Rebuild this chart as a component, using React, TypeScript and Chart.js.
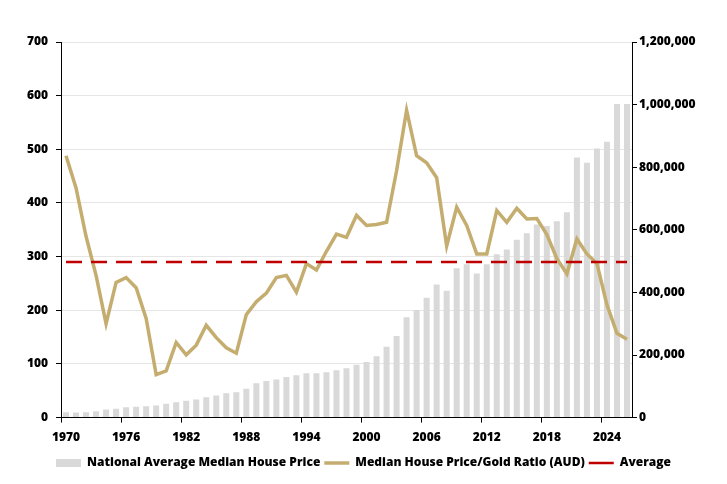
import { useEffect, useRef } from 'react';
import Chart from 'chart.js/auto';

const years = [
  '1970', '1971', '1972', '1973', '1974', '1975', '1976', '1977', '1978', '1979',
  '1980', '1981', '1982', '1983', '1984', '1985', '1986', '1987', '1988', '1989',
  '1990', '1991', '1992', '1993', '1994', '1995', '1996', '1997', '1998', '1999',
  '2000', '2001', '2002', '2003', '2004', '2005', '2006', '2007', '2008', '2009',
  '2010', '2011', '2012', '2013', '2014', '2015', '2016', '2017', '2018', '2019',
  '2020', '2021', '2022', '2023', '2024', '2025', '2026',
];

// national average median house price (right axis)
const housePrices = [
  17000, 16000, 17000, 20000, 26000, 28000, 33000, 35000, 36000, 39000,
  44000, 49000, 54000, 58000, 65000, 71000, 78000, 81000, 92000, 110000,
  117000, 122000, 130000, 135000, 142000, 142000, 145000, 151000, 158000, 169000,
  178000, 196000, 226000, 261000, 321000, 344000, 383000, 425000, 405000, 477000,
  490000, 460000, 490000, 522000, 537000, 568000, 589000, 617000, 612000, 627000,
  656000, 831000, 814000, 860000, 881000, 1002000, 1002000,
];

// median house price / gold ratio (left axis)
const goldRatio = [
  488, 428, 338, 265, 175, 252, 261, 242, 185, 80,
  87, 140, 117, 135, 172, 149, 130, 120, 192, 216,
  232, 261, 265, 234, 287, 275, 310, 342, 336, 377,
  358, 360, 364, 460, 573, 488, 475, 447, 320, 392,
  358, 305, 305, 386, 364, 390, 370, 371, 341, 296,
  268, 333, 305, 287, 210, 157, 146,
];

const averageRatio = 290;
const labelEvery = 6;

const font = { family: '"Open Sans", sans-serif', size: 12, weight: 800 };

const App = () => {
  const canvasRef = useRef<HTMLCanvasElement>(null);

  useEffect(() => {
    const ctx = canvasRef.current!.getContext('2d')!;
    const chart = new Chart(ctx, {
      type: 'bar',
      data: {
        labels: years,
        datasets: [
          {
            type: 'bar',
            label: 'National Average Median House Price',
            data: housePrices,
            yAxisID: 'yPrice',
            backgroundColor: '#d9d9d9',
            borderWidth: 0,
            barPercentage: 0.6,
            categoryPercentage: 1,
            pointStyle: 'rect',
            order: 3,
          },
          {
            type: 'line',
            label: 'Median House Price/Gold Ratio (AUD)',
            data: goldRatio,
            yAxisID: 'yRatio',
            borderColor: '#c4ad6f',
            backgroundColor: '#c4ad6f',
            borderWidth: 3.5,
            pointRadius: 0,
            tension: 0,
            pointStyle: 'line',
            order: 2,
          },
          {
            type: 'line',
            label: 'Average',
            data: years.map(() => averageRatio),
            yAxisID: 'yRatio',
            borderColor: '#c00000',
            backgroundColor: '#c00000',
            borderWidth: 2.5,
            borderDash: [16, 9],
            pointRadius: 0,
            pointStyle: 'line',
            order: 1,
          },
        ],
      },
      options: {
        animation: false,
        responsive: true,
        maintainAspectRatio: false,
        layout: { padding: { top: 42, left: 0, right: 0, bottom: 5 } },
        scales: {
          x: {
            type: 'category',
            offset: true,
            grid: {
              offset: true,
              drawOnChartArea: false,
              drawTicks: true,
              tickLength: 5,
              tickColor: (c: any) => (c.index % labelEvery === 0 ? '#000' : 'rgba(0,0,0,0)'),
            },
            border: { color: '#000', width: 1 },
            ticks: {
              autoSkip: false,
              maxRotation: 0,
              padding: 8,
              color: '#000',
              font,
              callback: (_v: any, i: number) => (i % labelEvery === 0 ? years[i] : ''),
            },
          },
          yRatio: {
            type: 'linear',
            position: 'left',
            min: 0,
            max: 700,
            grid: { color: '#e6e6e6', tickColor: '#000', tickLength: 5 },
            border: { color: '#000', width: 1 },
            ticks: { stepSize: 100, padding: 8, color: '#000', font },
            afterFit: (s: any) => {
              s.width = 61;
            },
          },
          yPrice: {
            type: 'linear',
            position: 'right',
            min: 0,
            max: 1200000,
            grid: { drawOnChartArea: false, tickColor: '#000', tickLength: 5 },
            border: { color: '#000', width: 1 },
            ticks: {
              stepSize: 200000,
              padding: 2,
              color: '#000',
              font,
              callback: (v: any) => Number(v).toLocaleString('en-US'),
            },
            afterFit: (s: any) => {
              s.width = 95;
            },
          },
        },
        plugins: {
          tooltip: { enabled: false },
          legend: {
            position: 'bottom',
            labels: {
              usePointStyle: true,
              pointStyleWidth: 25,
              boxHeight: 8,
              padding: 4,
              color: '#000',
              font,
              sort: (a: any, b: any) => a.datasetIndex - b.datasetIndex,
            },
          },
        },
      },
    });

    return () => {
      chart.destroy();
    };
  }, []);

  return (
    <div style={{ position: 'absolute', left: 0, top: 0, width: 727, height: 484, background: '#fff' }}>
      <canvas ref={canvasRef} />
    </div>
  );
};

export default App;
